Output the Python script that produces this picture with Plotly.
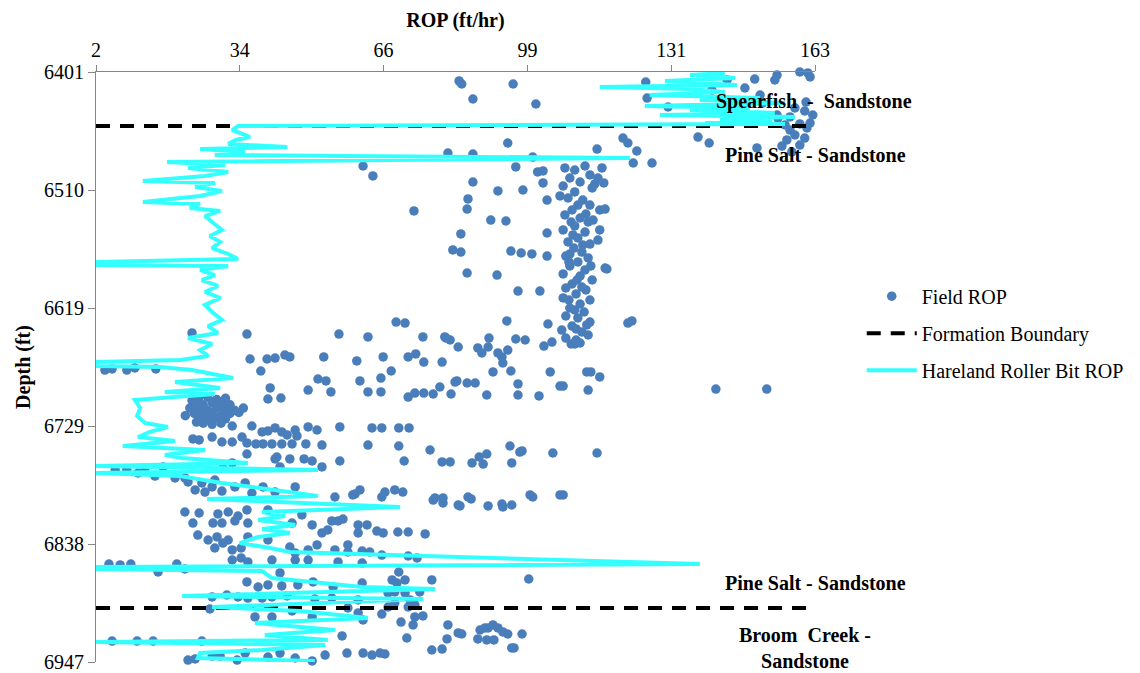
import plotly.graph_objects as go

# ---------------- data ----------------
# Axis extents and tick labels
rop_min, rop_max = 2, 163
depth_top, depth_bottom = 6401, 6947
rop_tick_labels = ["2", "34", "66", "99", "131", "163"]
depth_tick_labels = ["6401", "6510", "6619", "6729", "6838", "6947"]

# Formation boundary depths (ft)
boundary_depths = [6451, 6897]

# Field ROP (ft/hr) vs depth (ft) -- Spearfish
spearfish_rop = [159.6, 161.4, 161.9, 154.5, 154.0, 149.5, 143.3, 125.1, 136.8, 139.9,
                 125.4, 150.7, 151.3, 154.5, 157.4, 160.7, 162.5, 154.7, 156.3, 159.6,
                 130.1, 138.8, 83.3, 83.9, 86.4, 95.4, 100.5, 161.9, 161.0, 147.3, 158.5]
spearfish_depth = [6401.0, 6401.9, 6405.6, 6403.8, 6408.4, 6407.5, 6408.4, 6410.3, 6420.4, 6417.7,
                   6425.1, 6422.3, 6429.7, 6440.8, 6442.6, 6437.1, 6440.8, 6443.6, 6450.0, 6449.1,
                   6433.4, 6436.2, 6409.3, 6412.1, 6426.0, 6412.1, 6430.6, 6448.2, 6428.8, 6415.8, 6434.3]

# Field ROP -- Pine Salt
pine_salt_rop = [
    157.4, 158.5, 156.7, 159.6, 150.0, 155.6, 161.2, 136.8, 139.3, 160.7, 157.8,
    94.2, 120.0, 121.1, 123.1, 114.2, 80.8, 86.4, 99.8, 122.3, 126.5, 61.8, 64.0,
    96.0, 115.3, 100.9, 102.1, 86.4, 102.1, 92.0, 97.6, 113.7, 115.7, 85.3, 85.1,
    103.0, 73.2, 90.4, 93.8, 116.0, 83.7, 103.0, 81.9, 83.7, 94.9, 97.2, 99.6,
    103.0, 113.3, 116.4, 85.1, 91.8, 96.5, 101.4, 114.4,
    107.0, 109.2, 111.5, 112.6, 108.1, 110.4, 106.6, 113.1, 109.2, 107.7, 111.0,
    112.6, 108.6, 107.0, 110.4, 112.2, 109.2, 106.6, 111.5, 109.9, 107.7, 112.6,
    109.0, 110.8, 107.2, 112.2, 109.9, 108.1, 111.5, 106.6, 110.4, 113.1, 108.6,
    107.2, 111.7, 109.5, 106.6, 112.6, 110.4, 108.1, 111.3, 107.2, 109.9, 112.6,
    108.6, 106.3, 110.8, 112.2, 109.5, 108.4, 114.8, 114.4, 116.0, 114.8, 108.8,
    111.0, 108.1, 109.7, 107.9, 111.9, 109.5, 105.9, 109.9, 108.4, 111.7, 107.9,
    112.8, 110.8, 109.2, 107.2,
    94.0, 103.2, 121.1, 122.0, 69.2, 71.2, 56.4, 62.9, 75.2, 80.1, 90.0, 96.0,
    98.1, 104.1, 23.5, 35.8, 80.4, 81.3, 83.1, 87.5, 89.8, 88.4, 92.0, 94.2,
    92.9, 93.1, 102.3, 109.2, 110.4,
    36.5, 40.3, 42.1, 44.3, 45.4, 53.0, 60.4, 66.3, 71.9, 73.6, 75.4, 79.5,
    38.9, 68.1,
    51.7, 53.5, 61.1, 65.8, 82.4, 41.0, 49.5, 54.6, 62.9, 65.8, 71.9, 73.4,
    75.4, 77.5, 79.0, 81.5, 40.5, 43.4,
    90.9, 94.9, 103.7, 111.9, 112.8, 114.8, 82.8, 85.1, 86.9, 96.5, 105.9,
    106.6, 89.5, 96.5, 101.2, 112.2, 140.8, 152.2,
    4.0, 5.6, 8.9, 10.7, 15.4,
    23.5, 25.0, 27.0, 29.0, 31.0, 24.0, 26.0, 28.0, 30.0, 32.0, 23.0, 25.0,
    27.0, 29.0, 31.0, 33.0, 24.0, 26.0, 28.0, 30.0, 32.0, 25.0, 27.0, 29.0,
    31.0, 26.0, 28.0, 30.0, 34.0, 35.0, 22.0, 24.5, 27.5, 30.5,
    32.5, 36.9, 39.2, 40.5, 42.1, 43.6, 44.8, 46.6, 47.0, 49.5, 51.5, 56.6,
    63.8, 66.0, 69.8, 72.1,
    23.7, 25.1, 28.0, 30.2, 32.5, 34.7, 35.8, 37.8, 39.4, 41.4, 43.6, 45.9,
    49.0, 52.6, 62.9, 69.8, 76.8,
    94.7, 97.4, 96.9, 104.3, 114.2, 86.2, 88.7, 87.8, 89.5, 95.1,
    35.8, 42.5, 45.4, 48.6, 50.4, 52.6, 56.6, 71.0, 79.5, 81.3, 43.2, 42.1,
    6.3, 11.4, 15.2, 17.0, 30.4, 32.5, 19.7, 22.6, 25.7, 28.0, 30.2, 33.1,
    35.4, 36.9, 39.4, 42.1, 46.6, 55.5, 60.0, 61.1, 66.7, 68.9, 70.7, 77.9,
    79.7, 8.9, 13.0, 21.9, 24.2, 26.4, 28.6,
    85.3, 86.0, 83.5, 89.8, 92.9, 93.1, 95.1, 99.2, 99.8, 105.9, 106.6,
    21.9, 25.1, 23.7, 28.2, 29.3, 31.6, 33.8, 35.8, 36.0, 30.2, 33.1, 40.5,
    48.1, 45.9, 50.4, 52.6, 53.9, 56.2, 57.3, 54.8, 60.7, 62.7, 60.7, 64.9,
    66.3, 69.6, 71.9, 75.7, 59.5, 66.0, 77.5, 79.7, 83.1,
    24.8, 27.1, 29.1, 31.6, 28.6, 32.5, 36.0, 34.5, 30.4, 40.5, 45.4, 46.6,
    49.5, 51.5, 55.5, 58.4, 58.4, 61.6, 63.3, 66.0, 71.9, 73.9,
    32.5, 34.5, 36.0, 41.4, 46.6, 49.5, 56.2, 61.6,
    4.9, 7.4, 9.8, 15.9, 20.1, 21.9,
    43.2, 69.8, 35.8, 38.3, 40.5, 43.6, 47.2, 50.6, 55.1, 61.6, 68.3, 69.4,
    71.2, 77.2, 98.9,
    33.8, 36.0, 31.3, 28.0, 39.2, 41.4, 44.8, 51.0, 54.8, 60.7, 67.4, 68.9,
    71.2, 72.3, 74.5,
]
pine_salt_depth = [
    6454.7, 6459.3, 6463.9, 6468.6, 6471.3, 6469.5, 6452.8, 6461.2, 6466.7, 6462.1, 6475.0,
    6466.7, 6462.1, 6466.7, 6474.1, 6472.3, 6476.0, 6476.9, 6479.7, 6485.2, 6485.2, 6488.0, 6497.2,
    6488.9, 6489.8, 6493.5, 6492.6, 6502.8, 6503.7, 6511.1, 6510.2, 6504.6, 6503.7, 6518.5, 6527.8,
    6519.5, 6529.6, 6538.0, 6538.9, 6527.8, 6550.9, 6550.0, 6565.7, 6567.6, 6566.7, 6568.5, 6569.4,
    6571.3, 6538.0, 6583.3, 6587.0, 6588.9, 6603.7, 6603.7, 6499.1,
    6489.8, 6491.7, 6488.0, 6496.3, 6499.1, 6502.8, 6506.5, 6508.3, 6512.0, 6517.6, 6519.5,
    6524.1, 6528.7, 6533.3, 6536.1, 6539.8, 6543.5, 6547.2, 6549.1, 6554.6, 6558.3, 6560.2,
    6563.9, 6567.6, 6571.3, 6573.1, 6576.8, 6580.5, 6584.2, 6587.9, 6589.8, 6593.5, 6597.2,
    6600.9, 6602.7, 6606.4, 6610.1, 6612.0, 6615.7, 6619.4, 6623.1, 6626.8, 6628.6, 6632.4,
    6636.1, 6639.8, 6641.6, 6644.4, 6649.0, 6652.7, 6528.7, 6556.5, 6582.4, 6547.2, 6551.8,
    6561.1, 6569.4, 6593.5, 6612.0, 6635.1, 6638.8, 6515.7, 6524.1, 6539.8, 6532.4, 6576.8,
    6580.5, 6600.0, 6621.2, 6647.2,
    6631.4, 6634.2, 6633.3, 6631.4, 6632.4, 6633.3, 6643.5, 6646.2, 6646.2, 6646.2, 6647.2, 6648.1,
    6649.0, 6650.9, 6642.5, 6643.5, 6647.2, 6649.0, 6655.5, 6656.4, 6655.5, 6661.0, 6661.0, 6658.3,
    6664.7, 6670.3, 6654.6, 6652.7, 6651.8,
    6666.6, 6666.6, 6665.7, 6662.9, 6664.7, 6664.7, 6668.4, 6664.7, 6664.7, 6661.9, 6669.4, 6669.4,
    6677.7, 6677.7,
    6685.1, 6686.9, 6686.9, 6684.2, 6687.9, 6693.4, 6695.3, 6697.1, 6697.1, 6697.1, 6701.8, 6698.1,
    6698.1, 6699.0, 6692.5, 6699.0, 6703.6, 6702.7,
    6678.6, 6677.7, 6678.6, 6678.6, 6678.6, 6683.2, 6686.9, 6688.8, 6688.8, 6689.7, 6691.6,
    6691.6, 6699.9, 6699.9, 6700.8, 6695.3, 6694.4, 6694.4,
    6676.8, 6675.8, 6676.8, 6674.9, 6675.8,
    6705.0, 6703.0, 6702.0, 6704.0, 6703.0, 6708.0, 6709.0, 6707.0, 6708.0, 6709.0, 6712.0, 6713.0,
    6714.0, 6712.0, 6713.0, 6714.0, 6717.0, 6718.0, 6716.0, 6719.0, 6717.0, 6722.0, 6723.0, 6721.0,
    6722.0, 6726.0, 6727.0, 6726.0, 6716.0, 6712.0, 6719.0, 6725.0, 6719.0, 6711.0,
    6728.6, 6728.6, 6734.1, 6733.2, 6730.4, 6734.1, 6736.9, 6732.3, 6737.8, 6729.5, 6732.3, 6729.5,
    6730.4, 6730.4, 6730.4, 6730.4,
    6740.6, 6741.5, 6738.8, 6743.4, 6743.4, 6738.8, 6744.3, 6745.2, 6745.2, 6745.2, 6745.2, 6745.2,
    6745.2, 6746.2, 6746.2, 6747.1, 6750.8,
    6747.1, 6751.7, 6752.7, 6753.6, 6753.6, 6762.8, 6763.8, 6757.3, 6754.5, 6762.8,
    6754.5, 6757.3, 6759.1, 6759.1, 6761.0, 6766.5, 6761.0, 6761.0, 6761.9, 6761.9, 6766.5, 6759.1,
    6769.3, 6772.1, 6774.9, 6766.5, 6767.5, 6762.8, 6776.7, 6780.4, 6781.3, 6785.0, 6788.8, 6785.0,
    6781.3, 6790.6, 6785.0, 6789.7, 6785.0, 6794.3, 6791.5, 6787.8, 6789.7, 6787.8, 6789.7, 6795.2,
    6795.2, 6769.3, 6767.5, 6776.7, 6787.8, 6789.7, 6778.6,
    6794.3, 6796.1, 6802.6, 6802.6, 6800.8, 6803.5, 6801.7, 6792.4, 6794.3, 6792.4, 6792.4,
    6808.2, 6809.1, 6818.4, 6818.4, 6810.0, 6808.2, 6811.9, 6806.3, 6818.4, 6818.4, 6816.5, 6806.3,
    6810.9, 6818.4, 6820.2, 6827.6, 6824.8, 6816.5, 6814.7, 6816.5, 6820.2, 6820.2, 6827.6, 6825.8,
    6827.6, 6826.7, 6826.7, 6828.5, 6792.4, 6794.3, 6797.1, 6799.8, 6801.7,
    6829.5, 6834.1, 6831.3, 6834.1, 6841.5, 6843.3, 6831.3, 6841.5, 6836.9, 6834.1, 6840.6, 6846.1,
    6843.3, 6838.7, 6843.3, 6838.7, 6845.2, 6844.3, 6845.2, 6848.0, 6848.9, 6850.7,
    6852.6, 6850.7, 6854.4, 6852.6, 6852.6, 6852.6, 6854.4, 6855.4,
    6856.3, 6857.2, 6856.3, 6863.7, 6856.3, 6860.9,
    6864.6, 6863.7, 6872.9, 6877.6, 6875.7, 6876.6, 6875.7, 6872.9, 6877.6, 6873.9, 6871.1, 6873.9,
    6871.1, 6871.1, 6870.2,
    6886.8, 6887.8, 6885.0, 6886.8, 6887.8, 6886.8, 6885.9, 6888.7, 6887.8, 6889.6, 6883.1, 6882.2,
    6883.1, 6889.6, 6882.2,
]

# Field ROP -- Broom Creek
broom_creek_rop = [
    27.5, 37.6, 41.4, 45.9, 50.4, 58.4, 60.7, 66.0, 67.4, 68.9, 71.9, 73.4, 75.2, 73.4,
    61.8, 70.3, 73.0, 80.8, 57.1, 71.6, 80.6, 83.1,
    5.6, 11.2, 14.8, 25.7,
    22.6, 24.2, 28.0, 29.8, 33.6, 35.4, 40.5, 43.2, 46.6, 50.4, 53.3, 58.2, 61.8, 63.8,
    65.6, 66.7, 77.2, 79.5,
    83.9, 88.0, 89.1, 89.8, 90.9, 92.0, 93.1, 94.2, 87.5, 89.5, 91.1, 97.4, 95.1, 95.6,
]
broom_creek_depth = [
    6897.9, 6905.3, 6905.3, 6899.8, 6905.3, 6897.0, 6901.6, 6902.6, 6896.1, 6892.4, 6896.1, 6894.2, 6904.4, 6905.3,
    6908.1, 6910.0, 6912.7, 6912.7, 6922.9, 6924.8, 6925.7, 6920.1,
    6927.6, 6927.6, 6927.6, 6927.6,
    6945.2, 6944.2, 6941.5, 6941.5, 6945.2, 6938.7, 6942.4, 6938.7, 6943.3, 6946.0, 6940.6, 6938.7, 6938.7, 6940.6,
    6938.7, 6939.6, 6935.9, 6935.0,
    6921.1, 6917.4, 6915.5, 6915.5, 6912.7, 6915.5, 6919.2, 6921.1, 6925.7, 6926.6, 6926.6, 6921.1, 6934.0, 6934.0,
]

# Hareland roller-bit model ROP along the well
hareland_rop = [
    142.8, 135.0, 145.1, 129.4, 145.5, 114.8, 135.0, 142.8, 126.0, 150.7, 137.2, 156.3,
    124.9, 148.4, 135.0, 154.0, 128.3, 158.5, 141.7, 153.4, 138.4, 156.3,
    33.8, 32.5, 34.2, 36.5, 33.3, 31.6, 44.8, 25.3, 35.4, 28.6, 121.6, 17.9,
    30.9, 22.6, 31.6, 26.4, 12.5, 28.6, 24.2, 30.2, 25.3, 12.5, 25.3, 23.0,
    29.8, 26.4, 28.0, 30.2, 27.5, 29.8, 28.0, 31.6, 33.8, 2.0, 2.0, 31.6,
    25.3, 28.6, 25.7, 29.3, 26.4, 29.8, 26.4, 28.0, 30.2, 27.1, 29.3, 22.6,
    28.0, 25.3, 27.1, 20.8, 2.0, 2.0, 16.3, 23.5, 32.7, 19.7, 29.8, 17.4,
    28.6, 10.7, 11.9, 11.2, 13.0, 18.1, 14.1, 11.4, 19.7, 8.0, 26.4, 17.4,
    21.3, 36.0, 2.0, 51.7, 2.0, 20.8, 30.2, 51.7, 26.9, 43.2, 70.1, 39.2,
    44.3, 38.3, 46.6, 39.2, 45.4, 38.3, 34.2, 41.0, 45.4, 137.2, 2.0, 2.0,
    39.2, 41.4, 61.6, 77.9, 21.3, 75.2, 28.0, 47.7, 62.9, 37.6, 55.5, 39.8,
    53.9, 2.0, 53.3, 39.2, 25.3, 24.8, 51.0,
]
hareland_depth = [
    6401.9, 6403.8, 6406.6, 6409.3, 6413.0, 6414.9, 6416.7, 6419.5, 6422.3, 6425.1, 6426.9, 6429.7,
    6432.5, 6434.3, 6436.2, 6438.9, 6440.8, 6442.6, 6444.5, 6446.3, 6448.2, 6449.1,
    6451.0, 6454.7, 6457.4, 6461.2, 6463.9, 6467.6, 6470.4, 6472.3, 6475.0, 6477.8, 6480.6, 6484.3,
    6487.1, 6489.8, 6493.5, 6497.2, 6501.9, 6503.7, 6507.4, 6511.1, 6515.7, 6521.3, 6523.2, 6526.9,
    6529.6, 6534.3, 6539.8, 6547.2, 6552.8, 6558.3, 6563.9, 6569.4, 6574.0, 6576.8, 6579.6, 6580.5,
    6584.2, 6588.9, 6593.5, 6599.0, 6604.6, 6610.1, 6616.6, 6623.1, 6630.5, 6636.1, 6642.5, 6647.2,
    6652.7, 6658.3, 6663.8, 6667.5, 6669.4, 6673.1, 6674.0, 6676.8, 6684.2, 6687.9, 6693.4, 6697.1,
    6699.0, 6704.5, 6711.9, 6719.3, 6725.8, 6729.5, 6734.1, 6738.8, 6742.5, 6747.1, 6750.8, 6755.4,
    6758.2, 6762.8, 6765.6, 6769.3, 6772.1, 6774.9, 6781.3, 6793.4, 6796.2, 6799.0, 6803.6, 6808.2,
    6811.9, 6815.6, 6820.2, 6823.9, 6827.6, 6831.3, 6836.9, 6841.5, 6845.2, 6856.3, 6859.0, 6861.0,
    6862.8, 6869.3, 6877.6, 6879.4, 6885.9, 6888.7, 6896.1, 6899.8, 6906.3, 6910.9, 6917.4, 6922.0,
    6926.6, 6928.5, 6931.3, 6935.9, 6938.7, 6943.3, 6946.1,
]

# Formation labels: (text, ROP position, depth position)
formation_labels = [
    ("Spearfish  -  Sandstone", 162.8, 6428),
    ("Pine Salt - Sandstone", 163.0, 6478),
    ("Pine Salt - Sandstone", 163.0, 6874),
    ("Broom  Creek -<br>Sandstone", 160.8, 6934),
]

# ---------------- figure ----------------
FONT = "Liberation Serif"
AXIS_GREY = "#868686"

field_rop = spearfish_rop + pine_salt_rop + broom_creek_rop
field_depth = spearfish_depth + pine_salt_depth + broom_creek_depth

rop_step = (rop_max - rop_min) / (len(rop_tick_labels) - 1)
rop_ticks = [rop_min + i * rop_step for i in range(len(rop_tick_labels))]
depth_step = (depth_bottom - depth_top) / (len(depth_tick_labels) - 1)
depth_ticks = [depth_top + i * depth_step for i in range(len(depth_tick_labels))]

boundary_x, boundary_y = [], []
for d in boundary_depths:
    boundary_x += [rop_min, rop_max, None]
    boundary_y += [d, d, None]

fig = go.Figure()
fig.add_trace(go.Scatter(
    x=field_rop, y=field_depth, mode="markers", name="Field ROP",
    marker=dict(color="#4A7EBB", size=9.5, line=dict(width=0)),
    cliponaxis=False, legendgroup="g1",
))
fig.add_trace(go.Scatter(
    x=boundary_x, y=boundary_y, mode="lines", name="Formation Boundary",
    line=dict(color="black", width=4, dash="14px,10px"),
    cliponaxis=False, legendgroup="g2",
))
fig.add_trace(go.Scatter(
    x=hareland_rop, y=hareland_depth, mode="lines", name="Hareland Roller Bit ROP",
    line=dict(color="#33FFFF", width=4),
    cliponaxis=False, legendgroup="g3",
))

for text, xr, yd in formation_labels:
    fig.add_annotation(
        x=xr, y=yd, xref="x", yref="y", text=f"<b>{text}</b>", showarrow=False,
        font=dict(family=FONT, size=20, color="black"), xanchor="center", yanchor="middle",
    )

fig.update_layout(
    width=1140, height=673,
    margin=dict(l=96, r=325, t=72, b=11),
    paper_bgcolor="white", plot_bgcolor="white",
    font=dict(family=FONT, size=20, color="black"),
    showlegend=True,
    legend=dict(
        x=1.065, y=0.653, xanchor="left", yanchor="top",
        font=dict(family=FONT, size=20, color="black"),
        bgcolor="rgba(0,0,0,0)", tracegroupgap=8, itemwidth=50,
    ),
    xaxis=dict(
        side="top", range=[rop_min, rop_max], tickmode="array",
        tickvals=rop_ticks, ticktext=rop_tick_labels,
        showgrid=False, zeroline=False, showline=True, linecolor=AXIS_GREY, linewidth=1,
        ticks="outside", ticklen=6, tickcolor=AXIS_GREY,
        tickfont=dict(family=FONT, size=20, color="black"),
        title=dict(text="<b>ROP (ft/hr)</b>", font=dict(family=FONT, size=20, color="black"), standoff=6),
        automargin=False,
    ),
    yaxis=dict(
        range=[depth_bottom, depth_top], tickmode="array",
        tickvals=depth_ticks, ticktext=depth_tick_labels,
        showgrid=False, zeroline=False, showline=True, linecolor=AXIS_GREY, linewidth=1,
        ticks="outside", ticklen=7, tickcolor=AXIS_GREY,
        tickfont=dict(family=FONT, size=20, color="black"),
        title=dict(text="<b>Depth (ft)</b>", font=dict(family=FONT, size=20, color="black"), standoff=8),
        automargin=False,
    ),
)

fig.write_html("out.html")
